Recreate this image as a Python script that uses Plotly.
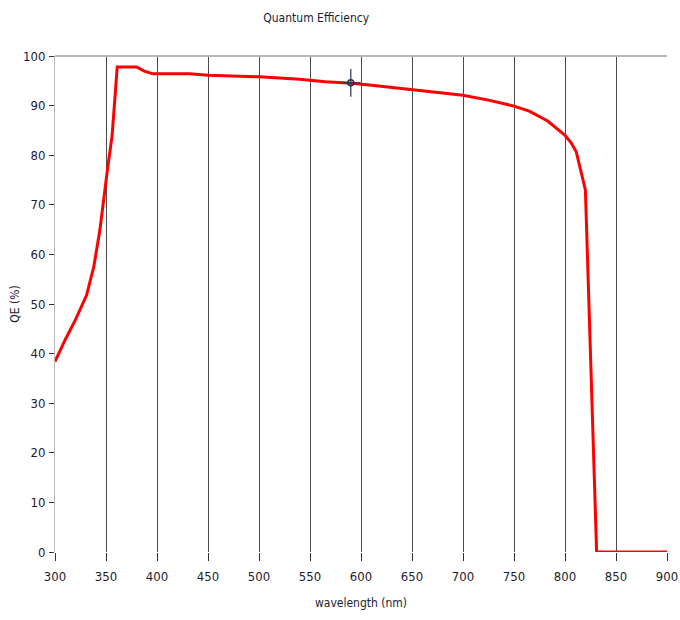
import plotly.graph_objects as go

wavelength = [300, 310, 320, 331, 338, 344, 351, 356, 361, 380, 387, 396, 432, 450, 500,
              540, 565, 591, 615, 656, 700, 725, 750, 765, 775, 783, 790, 800, 806, 811, 820,
              830, 831, 900]
qe = [38.4, 42.8, 46.8, 51.8, 57.5, 64.9, 76.4, 84.0, 97.8, 97.8, 97.0, 96.4, 96.4, 96.1, 95.8,
      95.3, 94.8, 94.5, 94.0, 93.1, 92.1, 91.1, 89.9, 88.9, 87.8, 86.9, 85.7, 84.0, 82.5, 80.7, 73.0,
      3.0, 0.0, 0.0]

cursor_x = [590]
cursor_y = [94.6]

x_ticks = [300, 350, 400, 450, 500, 550, 600, 650, 700, 750, 800, 850, 900]
y_ticks = [0, 10, 20, 30, 40, 50, 60, 70, 80, 90, 100]

FONT = "DejaVu Sans Condensed, Liberation Sans, Arial, sans-serif"
TXT = "#1c1c30"

fig = go.Figure()
fig.add_trace(go.Scatter(
    x=wavelength, y=qe, mode="lines",
    line=dict(color="#ff0000", width=3), hoverinfo="x+y", showlegend=False))
fig.add_trace(go.Scatter(
    x=cursor_x, y=cursor_y, mode="markers",
    marker=dict(symbol="circle-open", size=6, color="#2a3350", line=dict(width=1.5)),
    error_x=dict(type="constant", value=9.5, width=0, color="#2a3350", thickness=1.2),
    error_y=dict(type="constant", value=2.8, width=0, color="#2a3350", thickness=1.2),
    showlegend=False))

fig.update_layout(
    width=680, height=620,
    margin=dict(l=55, r=13, t=56, b=68, autoexpand=False),
    paper_bgcolor="white", plot_bgcolor="white",
    font=dict(family=FONT, size=12, color=TXT),
    title=dict(text="Quantum Efficiency", x=0.465, xanchor="center", y=0.972, yanchor="middle",
               yref="container", automargin=False,
               font=dict(family=FONT, size=12, color=TXT)),
    xaxis=dict(range=[300, 900], tickvals=x_ticks, ticktext=[str(v) for v in x_ticks],
               showgrid=True, gridcolor="#4a4a4a", gridwidth=1,
               ticks="outside", ticklen=8, tickcolor="#333", tickwidth=1,
               ticklabelstandoff=4,
               showline=False, zeroline=False, automargin=False,
               title=dict(text="wavelength (nm)", standoff=16, font=dict(family=FONT, size=12, color=TXT)),
               tickfont=dict(family=FONT, size=13, color=TXT)),
    yaxis=dict(range=[0, 100], tickvals=y_ticks, ticktext=[str(v) for v in y_ticks],
               showgrid=False, zeroline=False, automargin=False,
               showline=True, linecolor="#b8b8b8", linewidth=1,
               ticks="outside", ticklen=5, tickcolor="#333", tickwidth=1,
               ticklabelstandoff=1,
               title=dict(text="QE (%)", standoff=0, font=dict(family=FONT, size=12, color=TXT)),
               tickfont=dict(family=FONT, size=13, color=TXT)),
    shapes=[dict(type="line", xref="paper", yref="paper", x0=0, x1=1, y0=1, y1=1,
                 line=dict(color="#b8b8b8", width=2))],
)

fig.write_html("out.html", config={"displayModeBar": False},
               post_script="document.body.style.margin='0';document.body.style.overflow='hidden';")
